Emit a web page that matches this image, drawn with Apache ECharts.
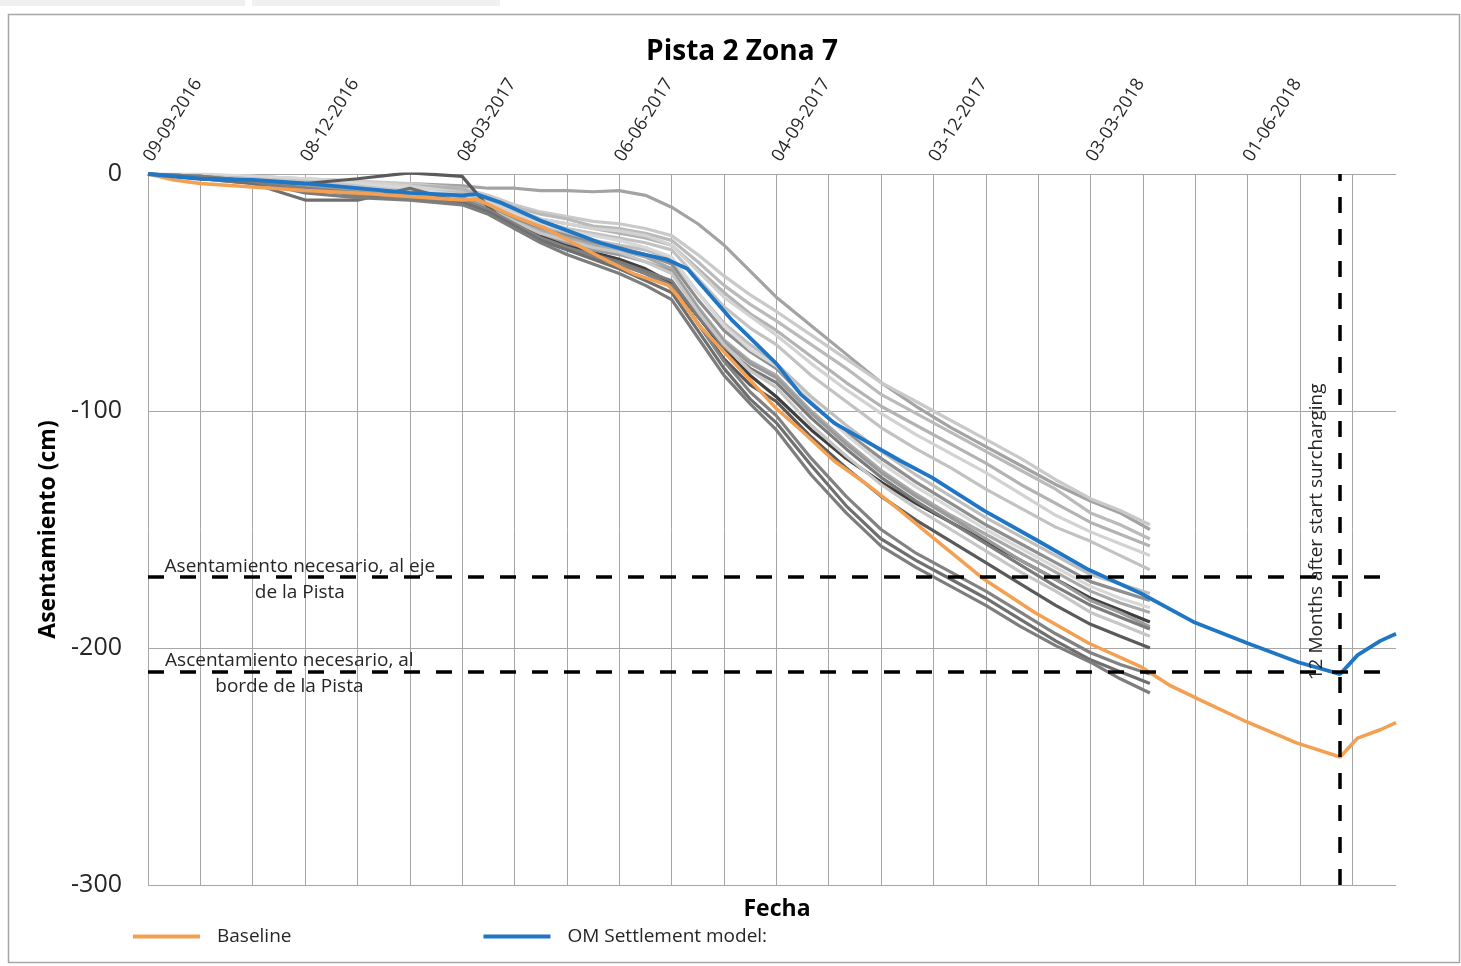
<!DOCTYPE html>
<html>
<head>
<meta charset="utf-8">
<script src="https://cdn.jsdelivr.net/npm/echarts@6/dist/echarts.min.js"></script>
<style>
  html, body { margin: 0; padding: 0; background: #fff; }
  #main { width: 1461px; height: 966px; }
</style>
</head>
<body>
<div id="main"></div>
<script>
// dias desde 09-09-2016
const START = Date.UTC(2016, 8, 9);

const baselineDays = [0, 15, 30, 60, 90, 120, 150, 180, 188, 210, 228, 259, 278, 298, 303, 316, 335, 360, 374, 393, 412, 431, 449, 479, 508, 539, 569, 586, 603, 629, 658, 683, 693, 706, 715];
const baselineVals = [0, -2.5, -4, -5.5, -7, -8, -9.5, -11, -10.5, -18, -23, -35, -42, -47, -51, -64, -79, -99, -108, -121, -131, -142, -153, -171, -185, -198, -208, -216, -222, -231, -240, -246, -238, -234.5, -231.5];

const omDays = [0, 30, 60, 90, 120, 150, 180, 188, 202, 226, 259, 278, 297, 309, 316, 335, 360, 374, 393, 412, 431, 449, 479, 508, 539, 569, 599, 630, 659, 683, 693, 706, 715];
const omVals = [0, -2, -2.5, -4, -6, -8, -9, -8.5, -12, -20, -29, -33, -36, -40, -46, -62, -80, -93, -105, -113, -121, -128, -142, -154, -167, -177, -189, -198, -206, -211, -203, -197, -194];

// puntos de medicion (placas de asentamiento)
const grayDays = [0, 30, 60, 90, 120, 150, 180, 195, 210, 225, 240, 255, 270, 285, 300, 315, 330, 345, 360, 380, 400, 420, 440, 460, 480, 500, 520, 540, 557, 574];
const gray = [
  [0, -1, -2, -3, -4, -4, -5, -6, -6, -7, -7, -7.5, -7, -9, -14, -21, -30, -41, -52, -64, -76, -88, -98, -107, -115, -123, -131, -138, -143, -150],
  [0, -1, -1.5, -2.5, -3, -4, -6, -9, -13, -16, -18, -20, -21, -23, -26, -34, -43, -51, -58, -68, -78, -88, -96, -104, -112, -120, -129, -137, -142, -148],
  [0, -0.5, -1, -2, -3, -5, -7, -10, -14, -17, -19, -22, -23, -25, -28, -37, -47, -55, -62, -72, -82, -93, -101, -109, -117, -125, -133, -143, -148, -154],
  [0, -1, -2, -3, -4, -5, -6, -11, -15, -19, -21, -23, -25, -27, -30, -40, -50, -59, -66, -77, -88, -98, -106, -114, -122, -131, -139, -147, -152, -157],
  [0, 0, -1, -2, -3, -5, -8, -12, -16, -19, -21, -23, -24, -26, -30, -41, -52, -60, -68, -80, -91, -101, -110, -118, -126, -135, -144, -151, -156, -161],
  [0, -1, -2, -3, -5, -7, -9, -13, -17, -20, -23, -25, -27, -29, -32, -44, -56, -65, -72, -85, -96, -107, -116, -124, -133, -141, -149, -155, -161, -167],
  [0, -1, -2, -3, -5, -7, -8, -13, -18, -22, -25, -28, -30, -32, -36, -50, -63, -72, -80, -94, -106, -117, -127, -136, -145, -153, -161, -169, -173, -177],
  [0, -1, -2, -4, -6, -8, -10, -14, -19, -23, -26, -29, -31, -34, -38, -53, -66, -75, -82, -97, -109, -120, -130, -139, -148, -156, -164, -172, -176, -180],
  [0, -0.5, -1, -2, -4, -6, -9, -13, -17, -21, -24, -26, -28, -31, -35, -50, -64, -74, -81, -96, -110, -122, -132, -141, -150, -158, -166, -174, -179, -183],
  [0, -1, -2, -4, -6, -8, -11, -15, -20, -24, -27, -30, -32, -35, -40, -56, -70, -79, -85, -100, -113, -125, -135, -144, -152, -160, -168, -176, -181, -185],
  [0, -1, -3, -5, -7, -9, -10, -15, -21, -26, -30, -33, -36, -40, -46, -60, -74, -85, -94, -108, -120, -130, -139, -147, -155, -163, -171, -179, -184, -189],
  [0, -1, -3, -5, -7, -9, -10, -14, -20, -25, -29, -32, -34, -37, -41, -57, -71, -80, -86, -101, -114, -126, -136, -145, -154, -163, -171, -180, -185, -191],
  [0, -2, -4, -6, -8, -10, -12, -16, -22, -27, -31, -34, -37, -41, -45, -60, -73, -82, -88, -103, -116, -128, -138, -147, -156, -165, -174, -182, -187, -192],
  [0, -1, -2, -3, -5, -8, -11, -15, -20, -25, -28, -31, -33, -37, -42, -58, -72, -83, -90, -106, -119, -131, -141, -150, -159, -168, -176, -185, -190, -195],
  [0, -2, -3, -4, -2, 0.5, -1, -14, -23, -28, -32, -35, -38, -42, -47, -63, -78, -89, -96, -111, -124, -136, -146, -155, -164, -173, -182, -190, -195, -200],
  [0, -1, -3, -6, -9, -10, -11, -15, -21, -27, -31, -35, -38, -42, -47, -63, -79, -92, -102, -120, -136, -150, -160, -168, -176, -185, -194, -202, -207, -211],
  [0, -2, -4, -11, -11, -6, -12, -16, -22, -28, -32, -36, -40, -45, -50, -66, -82, -95, -105, -123, -140, -154, -163, -171, -179, -188, -197, -205, -210, -215],
  [0, -1, -3, -8, -10, -11, -13, -17, -23, -29, -34, -38, -42, -47, -53, -69, -85, -97, -108, -127, -143, -157, -166, -174, -182, -191, -199, -206, -213, -219]
];
const grayColors = ['#a3a3a3', '#c9c9c9', '#bababa', '#b3b3b3', '#d2d2d2', '#c2c2c2', '#bfbfbf', '#8f8f8f', '#d8d8d8', '#a9a9a9', '#3f3f3f', '#9b9b9b', '#7b7b7b', '#c6c6c6', '#5a5a5a', '#828282', '#6f6f6f', '#7d7d7d'];

const yTicks = [0, -100, -200, -300];
const limitEje = -170;
const limitBorde = -210;
const surchargeDay = 683;

function fmt(d) {
  const t = new Date(START + d * 86400000);
  const p = (n) => String(n).padStart(2, '0');
  return p(t.getUTCDate()) + '-' + p(t.getUTCMonth() + 1) + '-' + t.getUTCFullYear();
}
const zip = (xs, ys) => xs.map((x, i) => [x, ys[i]]);

const myChart = echarts.init(document.getElementById('main'));

const series = gray.map((vals, i) => ({
  name: 'P' + (i + 1),
  type: 'line',
  data: zip(grayDays, vals),
  showSymbol: false,
  symbol: 'none',
  silent: true,
  lineStyle: { color: grayColors[i], width: 3.2 },
  z: 2
}));

series.push({
  name: 'Baseline',
  type: 'line',
  data: zip(baselineDays, baselineVals),
  symbol: 'none',
  lineStyle: { color: '#f4a052', width: 3.5 },
  itemStyle: { color: '#f4a052' },
  z: 3
});

series.push({
  name: 'OM Settlement model:',
  type: 'line',
  data: zip(omDays, omVals),
  symbol: 'none',
  lineStyle: { color: '#1f76c4', width: 3.8 },
  itemStyle: { color: '#1f76c4' },
  z: 4,
  markLine: {
    silent: true,
    symbol: 'none',
    label: { show: false },
    lineStyle: { color: '#000', width: 3.5, type: [16, 16] },
    data: [{ yAxis: limitEje }, { yAxis: limitBorde }, { xAxis: surchargeDay }]
  },
  markPoint: {
    silent: true,
    symbolSize: 0,
    label: {
      show: true,
      position: 'inside',
      fontSize: 19,
      lineHeight: 26,
      color: '#262626',
      align: 'center',
      verticalAlign: 'middle'
    },
    data: [
      { coord: [87, -171], label: { formatter: 'Asentamiento necesario, al eje\nde la Pista' } },
      { coord: [81, -211], label: { formatter: 'Ascentamiento necesario, al\nborde de la Pista' } },
      { coord: [669.5, -151], label: { formatter: '12 Months after start surcharging', rotate: 90 } }
    ]
  }
});

const option = {
  animation: false,
  textStyle: { fontFamily: 'Open Sans' },
  title: [
    { text: 'Pista 2 Zona 7', left: 737, top: 33, textAlign: 'center',
      textStyle: { fontSize: 28, fontWeight: 'bold', color: '#000' } },
    { text: 'Fecha', left: 772, top: 893, textAlign: 'center',
      textStyle: { fontSize: 23, fontWeight: 'bold', color: '#000' } }
  ],
  legend: {
    data: ['Baseline', 'OM Settlement model:'],
    icon: 'rect',
    left: 128,
    top: 922,
    itemWidth: 67,
    itemHeight: 4,
    itemGap: 192,
    textStyle: { fontSize: 19, color: '#262626', padding: [0, 0, 0, 12] }
  },
  grid: { left: 148, right: 65, top: 174, bottom: 81 },
  xAxis: {
    type: 'value',
    position: 'top',
    min: 0,
    max: 715,
    interval: 30,
    axisTick: { show: false },
    axisLine: { lineStyle: { color: '#a6a6a6' } },
    axisLabel: {
      rotate: 58,
      margin: 14,
      fontSize: 18,
      color: '#262626',
      showMaxLabel: false,
      formatter: (v) => (v % 90 === 0 && v <= 630 ? fmt(v) : '')
    },
    splitLine: { show: true, showMaxLine: false, lineStyle: { color: '#a6a6a6', width: 1 } }
  },
  yAxis: {
    type: 'value',
    min: yTicks[3],
    max: yTicks[0],
    interval: 100,
    name: 'Asentamiento (cm)',
    nameLocation: 'middle',
    nameRotate: 90,
    nameGap: 88,
    nameTextStyle: { fontSize: 23, fontWeight: 'bold', color: '#000' },
    axisLine: { show: false },
    axisTick: { show: false },
    axisLabel: { fontSize: 25, color: '#262626', margin: 26 },
    splitLine: { lineStyle: { color: '#a6a6a6', width: 1 } }
  },
  graphic: [
    { type: 'rect', shape: { x: 0, y: 0, width: 245, height: 6 }, style: { fill: '#f0f0f0' } },
    { type: 'rect', shape: { x: 252, y: 0, width: 248, height: 6 }, style: { fill: '#f0f0f0' } },
    { type: 'rect', shape: { x: 8.5, y: 14.5, width: 1451, height: 948 }, style: { fill: 'none', stroke: '#a6a6a6', lineWidth: 1.5 }, z: -10 }
  ],
  series: series
};

option && myChart.setOption(option);
</script>
</body>
</html>
